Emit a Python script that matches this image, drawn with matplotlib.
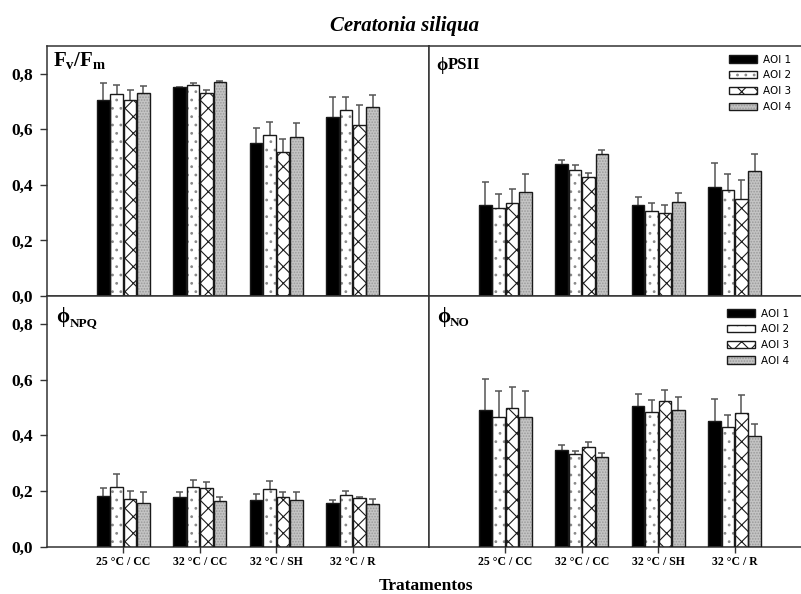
import matplotlib

matplotlib.use("Agg")

import matplotlib.pyplot as plt
import numpy as np
from matplotlib.legend_handler import HandlerTuple
from matplotlib.patches import Patch

CATEGORIES = ["25 °C / CC", "32 °C / CC", "32 °C / SH", "32 °C / R"]
SERIES = ["AOI 1", "AOI 2", "AOI 3", "AOI 4"]

# rows = AOI 1..4, columns = treatments
FVFM_MEAN = [[0.706, 0.751, 0.550, 0.645],
             [0.726, 0.760, 0.578, 0.668],
             [0.705, 0.732, 0.518, 0.615],
             [0.730, 0.770, 0.572, 0.680]]
FVFM_ERR = [[0.060, 0.003, 0.054, 0.073],
            [0.033, 0.006, 0.049, 0.050],
            [0.036, 0.009, 0.049, 0.071],
            [0.027, 0.005, 0.050, 0.042]]

PSII_MEAN = [[0.328, 0.474, 0.328, 0.392],
             [0.316, 0.455, 0.305, 0.381],
             [0.334, 0.430, 0.300, 0.348],
             [0.376, 0.513, 0.340, 0.449]]
PSII_ERR = [[0.084, 0.017, 0.030, 0.086],
            [0.050, 0.016, 0.031, 0.060],
            [0.053, 0.013, 0.027, 0.070],
            [0.065, 0.014, 0.032, 0.062]]

NPQ_MEAN = [[0.182, 0.178, 0.169, 0.156],
            [0.216, 0.213, 0.208, 0.187],
            [0.170, 0.212, 0.177, 0.174],
            [0.158, 0.164, 0.168, 0.152]]
NPQ_ERR = [[0.028, 0.017, 0.020, 0.013],
           [0.045, 0.025, 0.029, 0.014],
           [0.030, 0.022, 0.021, 0.004],
           [0.037, 0.014, 0.027, 0.020]]

NO_MEAN = [[0.491, 0.347, 0.505, 0.453],
           [0.467, 0.331, 0.485, 0.431],
           [0.497, 0.357, 0.523, 0.479],
           [0.467, 0.323, 0.492, 0.398]]
NO_ERR = [[0.110, 0.019, 0.042, 0.076],
          [0.091, 0.014, 0.040, 0.043],
          [0.078, 0.020, 0.039, 0.066],
          [0.093, 0.014, 0.047, 0.042]]

Y_TICKS = [0.0, 0.2, 0.4, 0.6, 0.8]
Y_TICK_LABELS = ["0,0", "0,2", "0,4", "0,6", "0,8"]

# fill, hatch, hatch colour for each AOI
STYLES = [
    ("black", "", "black"),
    ("white", "..", "#8a8a8a"),
    ("white", "xx", "#1a1a1a"),
    ("#c4c4c4", "......", "#9a9a9a"),
]
EDGE = "#1a1a1a"
FRAME = "#333333"
ERR = "#555555"
SERIF = ["Liberation Serif", "DejaVu Serif"]

BAR_W = 0.165
STEP = 0.175


def configure_style():
    plt.rcParams.update({
        "font.family": SERIF,
        "mathtext.fontset": "custom",
        "mathtext.rm": "Liberation Serif",
        "mathtext.it": "Liberation Serif:italic",
        "mathtext.bf": "Liberation Serif:bold",
        "hatch.linewidth": 0.8,
        "axes.linewidth": 1.1,
    })


def draw_bars(ax, means, errs):
    x = np.arange(len(CATEGORIES))
    for i, (fill, hatch, hcol) in enumerate(STYLES):
        xs = x + (i - 1.5) * STEP
        m = np.array(means[i])
        e = np.array(errs[i])
        ax.vlines(xs, m, m + e, color=ERR, lw=1.1, zorder=1)
        ax.hlines(m + e, xs - 0.045, xs + 0.045, color=ERR, lw=1.1, zorder=1)
        ax.bar(xs, m, BAR_W, color=fill, hatch=hatch, edgecolor=hcol, lw=0, zorder=2)
        ax.bar(xs, m, BAR_W, fill=False, edgecolor=EDGE, lw=1.0, zorder=3)


def setup_axes(ax, left, bottom):
    ax.set_xlim(-1, 4)
    ax.set_ylim(0, 0.9)
    for s in ax.spines.values():
        s.set_color(FRAME)
    ax.set_xticks(np.arange(len(CATEGORIES)))
    if bottom:
        ax.set_xticklabels(CATEGORIES, fontsize=8.5, fontweight="bold")
        ax.tick_params(axis="x", direction="inout", length=8, width=1, color=FRAME, pad=3)
    else:
        ax.tick_params(axis="x", length=0, labelbottom=False)
    ax.set_yticks(Y_TICKS)
    if left:
        ax.set_yticklabels(Y_TICK_LABELS, fontsize=12.5, fontweight="bold")
        ax.tick_params(axis="y", direction="out", length=5, width=1, color=FRAME, pad=5)
    else:
        ax.tick_params(axis="y", length=0, labelleft=False)


def phi_label(ax, x, y, rest, sub, size=15):
    phi = ax.text(x, y, "ϕ", transform=ax.transAxes, fontsize=size,
                  fontweight="bold", va="top", ha="left")
    if sub:
        ax.annotate(rest, xy=(1, 0), xycoords=phi, xytext=(0.3, -1.5),
                    textcoords="offset points", fontsize=9.5,
                    fontweight="bold", va="bottom", ha="left")
    else:
        ax.annotate(rest, xy=(1, 0), xycoords=phi, xytext=(0.3, 1.2),
                    textcoords="offset points", fontsize=12,
                    fontweight="bold", va="bottom", ha="left")


def add_legend(ax, anchor):
    handles = []
    for fill, hatch, hcol in STYLES:
        inner = Patch(facecolor=fill, hatch=hatch, edgecolor=hcol, lw=0)
        outline = Patch(fill=False, edgecolor=EDGE, lw=1.0)
        handles.append((inner, outline))
    ax.legend(handles, SERIES, handler_map={tuple: HandlerTuple(ndivide=1, pad=0)},
              loc="upper left", bbox_to_anchor=anchor, frameon=False,
              prop={"family": "DejaVu Sans", "size": 7.5},
              handlelength=2.7, handleheight=0.7, labelspacing=0.55,
              handletextpad=0.6, borderpad=0, borderaxespad=0)


def build():
    configure_style()
    fig = plt.figure(figsize=(8.01, 5.94), dpi=100)
    W, H = 801, 594

    def box(x0, x1, y_top, y_bot):
        return [x0 / W, 1 - y_bot / H, (x1 - x0) / W, (y_bot - y_top) / H]

    ax_fv = fig.add_axes(box(47, 429, 46, 296))
    ax_ps = fig.add_axes(box(429, 811, 46, 296))
    ax_npq = fig.add_axes(box(47, 429, 296, 546.7))
    ax_no = fig.add_axes(box(429, 811, 296, 546.7))

    draw_bars(ax_fv, FVFM_MEAN, FVFM_ERR)
    draw_bars(ax_ps, PSII_MEAN, PSII_ERR)
    draw_bars(ax_npq, NPQ_MEAN, NPQ_ERR)
    draw_bars(ax_no, NO_MEAN, NO_ERR)

    setup_axes(ax_fv, True, False)
    setup_axes(ax_ps, False, False)
    setup_axes(ax_npq, True, True)
    setup_axes(ax_no, False, True)

    ax_fv.text(0.016, 0.985, r"$\mathbf{F_v/F_m}$", transform=ax_fv.transAxes,
               fontsize=15, va="top", ha="left")
    phi_label(ax_ps, 0.018, 0.955, "PSII", False, size=13)
    phi_label(ax_npq, 0.024, 0.955, "NPQ", True)
    phi_label(ax_no, 0.020, 0.955, "NO", True)

    add_legend(ax_ps, (0.785, 0.965))
    add_legend(ax_no, (0.780, 0.950))

    fig.text(405 / W, 1 - 25.5 / H, "Ceratonia siliqua", fontsize=15,
             fontweight="bold", style="italic", ha="center", va="center")
    fig.text(426 / W, 1 - 586 / H, "Tratamentos", fontsize=12.5,
             fontweight="bold", ha="center", va="center")

    fig.savefig("out.png", dpi=100, facecolor="white")


if __name__ == "__main__":
    build()
